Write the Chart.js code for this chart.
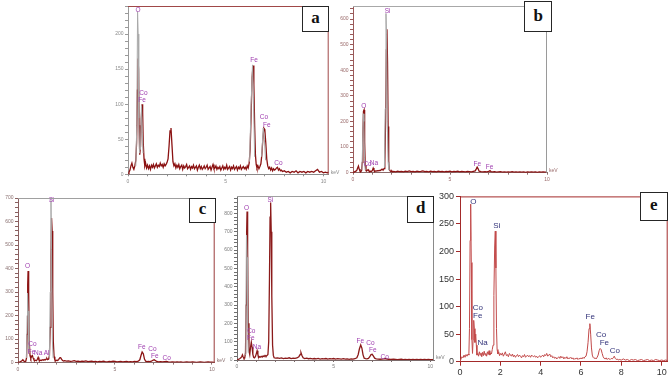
<!DOCTYPE html>
<html><head><meta charset="utf-8">
<script src="https://cdn.jsdelivr.net/npm/chart.js@4"></script>
<style>
html,body{margin:0;padding:0;background:#fff;width:669px;height:377px;overflow:hidden;position:relative}
canvas{position:absolute}
.tag{position:absolute;box-sizing:border-box;background:#fff;border:1.6px solid #262626;font:bold 17px "Liberation Serif","Times New Roman",serif;color:#111;display:flex;align-items:center;justify-content:center;line-height:1;padding-bottom:3px}
</style></head><body>
<canvas id="cA"></canvas><canvas id="cB"></canvas><canvas id="cC"></canvas><canvas id="cD"></canvas><canvas id="cE"></canvas>
<div class="tag" id="tA">a</div><div class="tag" id="tB">b</div><div class="tag" id="tC">c</div><div class="tag" id="tD">d</div><div class="tag" id="tE">e</div>
<script>
// ---------- DATA (energy keV, counts) ----------
const panelNames = ['a','b','c','d','e'];

const specA = [[0.00,0],[0.05,3],[0.10,6],[0.15,12],[0.20,16],[0.25,10],[0.30,7],[0.35,12],[0.40,20],[0.44,45],[0.48,120],[0.51,165],[0.54,150],[0.57,70],[0.60,28],[0.64,40],[0.68,80],[0.72,100],[0.75,88],[0.78,45],[0.82,22],[0.86,12],[0.90,16],[0.95,9],[1.00,13],[1.05,8],[1.10,12],[1.15,7],[1.20,13],[1.25,10],[1.30,14],[1.35,9],[1.40,12],[1.45,15],[1.50,10],[1.55,13],[1.60,11],[1.65,16],[1.70,12],[1.75,14],[1.80,10],[1.85,15],[1.90,12],[1.95,14],[2.00,17],[2.05,22],[2.10,40],[2.15,62],[2.20,66],[2.25,42],[2.30,18],[2.35,12],[2.40,15],[2.45,9],[2.50,13],[2.55,10],[2.60,14],[2.65,8],[2.70,11],[2.75,13],[2.80,7],[2.85,12],[2.90,9],[2.95,11],[3.00,14],[3.05,8],[3.10,10],[3.15,12],[3.20,7],[3.25,11],[3.30,9],[3.35,13],[3.40,8],[3.45,10],[3.50,12],[3.55,6],[3.60,10],[3.65,13],[3.70,8],[3.75,11],[3.80,7],[3.85,9],[3.90,12],[3.95,8],[4.00,10],[4.05,13],[4.10,7],[4.15,9],[4.20,11],[4.25,6],[4.30,10],[4.35,14],[4.40,8],[4.45,9],[4.50,12],[4.55,7],[4.60,10],[4.65,8],[4.70,11],[4.75,6],[4.80,9],[4.85,12],[4.90,7],[4.95,10],[5.00,8],[5.05,13],[5.10,7],[5.15,9],[5.20,11],[5.25,6],[5.30,10],[5.35,8],[5.40,12],[5.45,7],[5.50,9],[5.55,11],[5.60,6],[5.65,10],[5.70,8],[5.75,12],[5.80,7],[5.85,9],[5.90,11],[5.95,8],[6.00,10],[6.05,7],[6.10,12],[6.15,9],[6.20,16],[6.25,35],[6.30,85],[6.35,138],[6.40,155],[6.44,128],[6.48,70],[6.52,28],[6.56,14],[6.60,9],[6.65,12],[6.70,8],[6.75,11],[6.80,15],[6.85,28],[6.90,50],[6.95,66],[7.00,64],[7.05,45],[7.10,22],[7.15,12],[7.20,8],[7.25,10],[7.30,6],[7.35,9],[7.40,5],[7.45,8],[7.50,6],[7.55,7],[7.60,9],[7.65,10],[7.70,6],[7.75,8],[7.80,5],[7.85,6],[7.90,4],[8.00,5],[8.10,3],[8.20,4],[8.30,2],[8.40,4],[8.50,3],[8.60,5],[8.70,2],[8.80,4],[8.90,3],[9.00,4],[9.10,2],[9.20,4],[9.30,3],[9.40,4],[9.50,3],[9.60,5],[9.70,7],[9.75,5],[9.80,3],[9.90,4],[10.00,2],[10.10,3],[10.20,2],[10.27,3]];
const grayA = [[0.40,12],[0.45,70],[0.49,232],[0.52,200],[0.55,80],[0.59,30],[0.62,null],[0.64,35],[0.69,98],[0.73,60],[0.77,30],[0.80,null],[6.22,18],[6.30,100],[6.37,156],[6.42,110],[6.48,25],[6.52,null],[6.84,25],[6.92,66],[6.98,50],[7.04,20]];
const labelsA = [['O',0.51,234],['Co',0.79,115],['Fe',0.72,106],['Fe',6.45,163],['Co',6.96,81],['Fe',7.1,70],['Co',7.7,16]];

const specB = [[0.00,0],[0.05,2],[0.10,4],[0.15,6],[0.20,10],[0.24,18],[0.28,26],[0.32,14],[0.36,6],[0.40,4],[0.44,8],[0.48,40],[0.51,150],[0.54,240],[0.57,245],[0.60,120],[0.63,30],[0.67,8],[0.70,6],[0.74,10],[0.78,12],[0.82,7],[0.86,4],[0.90,6],[0.95,5],[1.00,9],[1.04,18],[1.08,10],[1.12,5],[1.16,7],[1.20,6],[1.25,8],[1.30,7],[1.35,9],[1.40,8],[1.45,11],[1.50,14],[1.55,10],[1.60,16],[1.64,40],[1.68,200],[1.72,480],[1.75,560],[1.78,430],[1.81,180],[1.84,45],[1.88,12],[1.92,6],[1.96,4],[2.00,7],[2.05,3],[2.10,5],[2.20,3],[2.30,6],[2.40,4],[2.50,5],[2.60,3],[2.70,6],[2.80,4],[2.90,7],[3.00,4],[3.10,5],[3.20,3],[3.30,6],[3.40,4],[3.50,5],[3.60,7],[3.70,4],[3.80,5],[3.90,3],[4.00,6],[4.10,4],[4.20,5],[4.30,3],[4.40,6],[4.50,4],[4.60,5],[4.70,3],[4.80,5],[4.90,4],[5.00,6],[5.10,3],[5.20,5],[5.30,4],[5.40,6],[5.50,3],[5.60,5],[5.70,4],[5.80,3],[5.90,5],[6.00,4],[6.10,3],[6.20,5],[6.30,7],[6.35,14],[6.40,22],[6.45,15],[6.50,6],[6.60,4],[6.70,3],[6.80,4],[6.90,3],[7.00,5],[7.06,8],[7.12,4],[7.20,3],[7.30,4],[7.40,2],[7.50,3],[7.60,4],[7.70,2],[7.80,3],[7.90,2],[8.00,3],[8.10,2],[8.20,4],[8.30,2],[8.40,3],[8.50,2],[8.60,3],[8.70,2],[8.80,3],[8.90,1],[9.00,3],[9.10,2],[9.20,3],[9.30,2],[9.40,3],[9.50,1],[9.60,3],[9.70,2],[9.80,3],[9.90,2],[10.00,2]];
const grayB = [[0.46,10],[0.50,120],[0.53,230],[0.56,200],[0.59,60],[0.63,10],[0.66,null],[1.62,20],[1.66,250],[1.70,622],[1.73,540],[1.77,200],[1.81,40],[1.85,10]];
const labelsB = [['Si',1.78,629],['O',0.55,260],['Co',0.75,34],['Na',1.08,36],['Fe',6.41,35],['Fe',7.04,23]];

const specC = [[0.00,0],[0.05,2],[0.10,3],[0.15,5],[0.20,8],[0.25,12],[0.30,7],[0.35,4],[0.40,6],[0.44,20],[0.47,120],[0.50,330],[0.52,390],[0.55,300],[0.58,90],[0.62,30],[0.66,18],[0.70,26],[0.74,30],[0.78,20],[0.82,12],[0.86,8],[0.90,10],[0.95,8],[1.00,14],[1.04,22],[1.08,12],[1.12,8],[1.16,10],[1.20,9],[1.25,12],[1.30,10],[1.35,13],[1.40,11],[1.45,15],[1.49,18],[1.53,13],[1.58,15],[1.62,30],[1.66,150],[1.70,450],[1.73,615],[1.76,560],[1.79,300],[1.82,90],[1.86,25],[1.90,12],[1.95,8],[2.00,10],[2.05,9],[2.10,14],[2.15,20],[2.20,21],[2.25,14],[2.30,9],[2.35,7],[2.40,8],[2.50,6],[2.60,7],[2.70,5],[2.80,6],[2.90,8],[3.00,5],[3.10,6],[3.20,4],[3.30,6],[3.40,5],[3.50,7],[3.60,4],[3.70,5],[3.80,6],[3.90,4],[4.00,5],[4.10,3],[4.20,5],[4.30,4],[4.40,6],[4.50,4],[4.60,3],[4.70,5],[4.80,4],[4.90,6],[5.00,5],[5.10,3],[5.20,4],[5.30,5],[5.40,3],[5.50,4],[5.60,5],[5.70,3],[5.80,4],[5.90,3],[6.00,5],[6.10,4],[6.20,6],[6.28,12],[6.34,30],[6.40,45],[6.46,38],[6.52,15],[6.58,6],[6.65,4],[6.72,5],[6.80,4],[6.88,6],[6.95,10],[7.02,12],[7.08,9],[7.15,5],[7.25,3],[7.35,4],[7.45,3],[7.55,4],[7.65,5],[7.75,3],[7.85,2],[7.95,3],[8.10,2],[8.20,3],[8.30,2],[8.40,3],[8.50,1],[8.60,2],[8.70,3],[8.80,2],[8.90,2],[9.00,3],[9.10,2],[9.20,1],[9.30,2],[9.40,3],[9.50,2],[9.60,1],[9.70,2],[9.80,3],[9.90,2],[10.00,2],[10.10,1],[10.14,2]];
const grayC = [[0.44,20],[0.47,200],[0.49,296],[0.52,220],[0.56,40],[0.60,null],[1.62,20],[1.66,300],[1.70,690],[1.73,480],[1.77,100],[1.81,20]];
const labelsC = [['O',0.49,410],['Si',1.73,691],['Co',0.74,78],['Fe',0.70,45],['Na',1.04,41],['Al',1.47,41],['Fe',6.38,64],['Co',6.93,55],['Fe',7.05,27],['Co',7.66,17]];

const specD = [[0.00,0],[0.05,3],[0.10,5],[0.15,8],[0.20,12],[0.25,20],[0.28,28],[0.32,16],[0.36,8],[0.40,10],[0.44,40],[0.47,300],[0.50,700],[0.52,810],[0.55,600],[0.58,200],[0.62,50],[0.66,30],[0.70,70],[0.74,97],[0.78,70],[0.82,30],[0.86,15],[0.90,12],[0.95,18],[1.00,35],[1.04,50],[1.08,30],[1.12,14],[1.16,18],[1.20,15],[1.25,20],[1.30,16],[1.35,22],[1.40,18],[1.45,25],[1.50,20],[1.55,24],[1.60,30],[1.64,100],[1.68,450],[1.71,780],[1.74,860],[1.77,700],[1.80,350],[1.84,80],[1.88,25],[1.92,12],[2.00,10],[2.10,12],[2.20,9],[2.30,11],[2.40,8],[2.50,10],[2.60,9],[2.70,12],[2.80,8],[2.90,10],[3.00,9],[3.10,11],[3.20,18],[3.27,30],[3.31,40],[3.36,25],[3.42,12],[3.50,8],[3.60,10],[3.70,7],[3.80,9],[3.90,6],[4.00,8],[4.10,6],[4.20,9],[4.30,5],[4.40,7],[4.50,6],[4.60,8],[4.70,5],[4.80,7],[4.90,6],[5.00,8],[5.10,5],[5.20,7],[5.30,6],[5.40,5],[5.50,7],[5.60,5],[5.70,6],[5.80,4],[5.90,6],[6.00,5],[6.10,7],[6.20,12],[6.27,30],[6.33,60],[6.40,82],[6.46,65],[6.52,28],[6.58,10],[6.65,7],[6.72,6],[6.80,9],[6.87,18],[6.93,30],[6.99,31],[7.05,22],[7.12,10],[7.20,6],[7.30,5],[7.40,4],[7.50,5],[7.60,6],[7.68,8],[7.75,5],[7.85,4],[7.95,3],[8.10,4],[8.20,3],[8.30,2],[8.40,3],[8.50,4],[8.60,2],[8.70,3],[8.80,2],[8.90,3],[9.00,2],[9.10,3],[9.20,2],[9.30,3],[9.40,2],[9.50,3],[9.60,2],[9.70,3],[9.80,2],[9.90,3],[10.00,2],[10.10,2],[10.19,3]];
const grayD = [[0.43,30],[0.46,300],[0.49,681],[0.52,560],[0.55,200],[0.58,40]];
const labelsD = [['O',0.49,827],['Si',1.73,873],['Co',0.74,158],['Fe',0.71,118],['Na',1.03,69],['Fe',6.38,100],['Co',6.90,91],['Fe',7.02,51],['Co',7.64,15]];

const specE = [[0.00,0],[0.05,5],[0.10,9],[0.15,7],[0.20,12],[0.25,8],[0.30,13],[0.35,10],[0.40,14],[0.44,12],[0.47,60],[0.50,220],[0.53,286],[0.56,180],[0.59,40],[0.62,15],[0.65,40],[0.68,75],[0.71,60],[0.74,35],[0.78,50],[0.81,30],[0.84,12],[0.88,15],[0.92,10],[0.96,18],[1.00,12],[1.04,16],[1.08,9],[1.12,17],[1.16,11],[1.20,19],[1.24,12],[1.28,15],[1.32,10],[1.36,18],[1.40,13],[1.44,20],[1.48,12],[1.52,16],[1.56,14],[1.60,22],[1.64,30],[1.68,120],[1.72,210],[1.75,237],[1.78,170],[1.81,60],[1.84,22],[1.88,14],[1.92,18],[1.96,11],[2.00,15],[2.05,12],[2.10,16],[2.15,10],[2.20,14],[2.25,18],[2.30,11],[2.35,13],[2.40,9],[2.45,15],[2.50,12],[2.55,10],[2.60,14],[2.65,9],[2.70,12],[2.75,8],[2.80,11],[2.85,13],[2.90,9],[2.95,12],[3.00,10],[3.05,7],[3.10,11],[3.15,9],[3.20,13],[3.25,8],[3.30,10],[3.35,12],[3.40,9],[3.45,11],[3.50,8],[3.55,12],[3.60,10],[3.65,9],[3.70,11],[3.75,8],[3.80,10],[3.85,7],[3.90,9],[3.95,11],[4.00,8],[4.05,10],[4.10,12],[4.15,9],[4.20,13],[4.25,11],[4.30,15],[4.35,10],[4.40,12],[4.45,14],[4.50,9],[4.55,11],[4.60,7],[4.65,9],[4.70,6],[4.75,8],[4.80,5],[4.85,7],[4.90,9],[4.95,6],[5.00,10],[5.05,7],[5.10,9],[5.15,5],[5.20,8],[5.25,6],[5.30,9],[5.35,5],[5.40,7],[5.45,6],[5.50,8],[5.55,5],[5.60,7],[5.65,4],[5.70,6],[5.75,5],[5.80,7],[5.85,4],[5.90,6],[5.95,5],[6.00,7],[6.05,5],[6.10,8],[6.15,6],[6.20,9],[6.25,10],[6.30,18],[6.35,35],[6.40,60],[6.44,69],[6.48,50],[6.52,25],[6.56,12],[6.60,8],[6.65,6],[6.70,7],[6.75,5],[6.80,8],[6.85,12],[6.90,20],[6.95,24],[7.00,22],[7.05,15],[7.10,9],[7.15,6],[7.20,5],[7.25,7],[7.30,4],[7.35,6],[7.40,5],[7.45,4],[7.50,6],[7.55,5],[7.60,7],[7.65,10],[7.70,6],[7.75,4],[7.80,5],[7.85,3],[7.90,4],[8.00,3],[8.10,5],[8.20,3],[8.30,4],[8.40,2],[8.50,4],[8.60,3],[8.70,4],[8.80,2],[8.90,3],[9.00,4],[9.10,2],[9.20,3],[9.30,4],[9.40,2],[9.50,3],[9.60,2],[9.70,4],[9.80,3],[9.90,2],[10.00,3],[10.10,2],[10.20,3],[10.30,2]];
const grayE = [];
const labelsE = [['O',0.66,291],['Si',1.82,246],['Co',0.88,98],['Fe',0.88,84],['Na',1.12,35],['Fe',6.46,82],['Co',7.00,48],['Fe',7.16,34],['Co',7.68,19]];

// tick labels
const xLabelsAD = [0,5,10];
const yLabelsA = [0,50,100,150,200];
const yLabelsB = [0,100,200,300,400,500,600];
const yLabelsC = [0,100,200,300,400,500,600,700];
const yLabelsD = [0,100,200,300,400,500,600,700,800];
const xLabelsE = [0,2,4,6,8,10];
const yLabelsE = [0,50,100,150,200,250,300];

// ---------- LAYOUT / STYLE ----------
const panels = [
 {c:'cA',t:'tA',spec:specA,gray:grayA,labels:labelsA,plot:{l:128.3,t:6,r:329,b:174.3},xMax:10.27,yMax:240,xLab:xLabelsAD,yLab:yLabelsA,xMinor:1,yMinor:10,
  col:{left:'#9a9a9a',bottom:'#8a8a8a',top:'#a04848',right:'#a04848',tick:'#8a8a8a',line:'#8b1212',gray:'#a9a9a9',lab:'#a040b0'},small:true,tag:{l:302,t:6,w:27,h:26}},
 {c:'cB',t:'tB',spec:specB,gray:grayB,labels:labelsB,plot:{l:352.7,t:6,r:546.7,b:172.7},xMax:10,yMax:651,xLab:xLabelsAD,yLab:yLabelsB,xMinor:1,yMinor:20,
  col:{left:'#9a5a5a',bottom:'#8a6a6a',top:'#a8a8a8',right:'#9a9a9a',tick:'#9a6a6a',line:'#8b1212',gray:'#a9a9a9',lab:'#a040b0'},small:true,tag:{l:524.3,t:1,w:27.7,h:31}},
 {c:'cC',t:'tC',spec:specC,gray:grayC,labels:labelsC,plot:{l:18.3,t:197.7,r:215,b:362.3},xMax:10.14,yMax:700,xLab:xLabelsAD,yLab:yLabelsC,xMinor:1,yMinor:20,
  col:{left:'#8a6060',bottom:'#8a7070',top:'#a0a0a0',right:'#9a3a3a',tick:'#8a7070',line:'#8b1212',gray:'#a9a9a9',lab:'#a040b0'},small:true,tag:{l:189.3,t:197.7,w:26.4,h:25.6}},
 {c:'cD',t:'tD',spec:specD,gray:grayD,labels:labelsD,plot:{l:237.3,t:196,r:434.3,b:360},xMax:10.19,yMax:895,xLab:xLabelsAD,yLab:yLabelsD,xMinor:1,yMinor:20,
  col:{left:'#707070',bottom:'#7a6a6a',top:'#a0a0a0',right:'#8a8a8a',tick:'#7a7a7a',line:'#8b1a1a',gray:'#a9a9a9',lab:'#a040b0'},small:true,tag:{l:407,t:196,w:27.3,h:26.7}},
 {c:'cE',t:'tE',spec:specE,gray:grayE,labels:labelsE,plot:{l:460,t:195,r:667.7,b:361.7},xMax:10.3,yMax:300,xLab:xLabelsE,yLab:yLabelsE,xMinor:2,yMinor:50,
  col:{left:'#a32a2a',bottom:'#a32a2a',top:'#a32a2a',right:'#a32a2a',tick:'#333333',line:'#c24a4a',gray:'#c9c9c9',lab:'#33337a'},small:false,tag:{l:640,t:192.3,w:27.7,h:28.4}}
];

const framePlugin = {
  id:'frame',
  afterDraw(chart, args, o){
    const {ctx, chartArea:a} = chart;
    ctx.save();
    ctx.lineWidth = 1;
    ctx.strokeStyle = o.top; ctx.beginPath(); ctx.moveTo(a.left, a.top+0.5); ctx.lineTo(a.right, a.top+0.5); ctx.stroke();
    ctx.strokeStyle = o.right; ctx.beginPath(); ctx.moveTo(a.right-0.5, a.top); ctx.lineTo(a.right-0.5, a.bottom); ctx.stroke();
    if (o.kev) {
      ctx.fillStyle = o.tick; ctx.font = '5px Arial'; ctx.textAlign='left'; ctx.textBaseline='middle';
      ctx.fillText('keV', a.right+2, a.bottom-2);
    }
    ctx.restore();
  }
};
const peakLabelPlugin = {
  id:'peaks',
  afterDatasetsDraw(chart, args, o){
    const {ctx} = chart; const xs = chart.scales.x, ys = chart.scales.y;
    ctx.save();
    ctx.fillStyle = o.color; ctx.font = o.font; ctx.textAlign='center'; ctx.textBaseline='middle';
    o.items.forEach(([t,x,y]) => ctx.fillText(t, xs.getPixelForValue(x), ys.getPixelForValue(y)));
    ctx.restore();
  }
};

panels.forEach(p => {
  const m = p.small ? {l:30,t:6,r:16,b:14} : {l:24,t:6,r:1.3,b:16};
  const cv = document.getElementById(p.c);
  const W = Math.round(p.plot.r - p.plot.l + m.l + m.r), H = Math.round(p.plot.b - p.plot.t + m.t + m.b);
  cv.width = W; cv.height = H;
  cv.style.left = (p.plot.l - m.l) + 'px'; cv.style.top = (p.plot.t - m.t) + 'px';
  cv.style.width = W+'px'; cv.style.height = H+'px';
  const padR = W - m.l - (p.plot.r - p.plot.l);
  const padB = H - m.t - (p.plot.b - p.plot.t);
  const xTicks = []; for (let v = 0; v <= p.xMax + 1e-9; v += p.xMinor) xTicks.push(Math.round(v*100)/100);
  const yTicks = []; for (let v = 0; v <= p.yMax + 1e-9; v += p.yMinor) yTicks.push(v);
  const fs = p.small ? 5 : 9;
  const datasets = [];
  if (p.gray.length) datasets.push({data:p.gray, borderColor:p.col.gray, borderWidth:1, pointRadius:0, tension:0, spanGaps:false});
  datasets.push({data:p.spec, borderColor:p.col.line, borderWidth:p.small?1.3:1, pointRadius:0, tension:0});
  new Chart(cv, {
    type:'line',
    data:{datasets},
    options:{
      responsive:false, animation:false, devicePixelRatio:1,
      layout:{padding:{left:0, top:m.t, right:padR, bottom:0}},
      plugins:{legend:{display:false}, tooltip:{enabled:false},
        frame:{top:p.col.top, right:p.col.right, tick:p.col.tick, kev:p.small},
        peaks:{items:p.labels, color:p.col.lab, font: p.small ? '6.5px Arial' : '8px Arial'}},
      scales:{
        x:{type:'linear', min:0, max:p.xMax,
           afterBuildTicks:s => { s.ticks = xTicks.map(v => ({value:v})); },
           afterFit:s => { s.height = padB; },
           grid:{display:true, drawOnChartArea:false, drawTicks:true, tickLength:p.small?2:4, color:p.col.bottom},
           border:{display:true, color:p.col.bottom, width:1},
           ticks:{autoSkip:false, maxRotation:0, padding:p.small?2:1, color:p.col.tick, font:{size:fs, family:'Arial'},
             callback:v => p.xLab.includes(v) ? String(v) : ''}},
        y:{type:'linear', min:0, max:p.yMax,
           afterBuildTicks:s => { s.ticks = yTicks.map(v => ({value:v})); },
           afterFit:s => { s.width = m.l; },
           grid:{display:true, drawOnChartArea:false, drawTicks:true, tickLength:p.small?3:4, color:p.col.left},
           border:{display:true, color:p.col.left, width:1},
           ticks:{autoSkip:false, padding:p.small?1.5:2, color:p.col.tick, font:{size:fs, family:'Arial'},
             callback:v => p.yLab.includes(v) ? String(v) : ''}}
      }
    },
    plugins:[framePlugin, peakLabelPlugin]
  });
  const tg = document.getElementById(p.t);
  tg.style.left = p.tag.l+'px'; tg.style.top = p.tag.t+'px'; tg.style.width = p.tag.w+'px'; tg.style.height = p.tag.h+'px';
});
</script>
</body></html>
